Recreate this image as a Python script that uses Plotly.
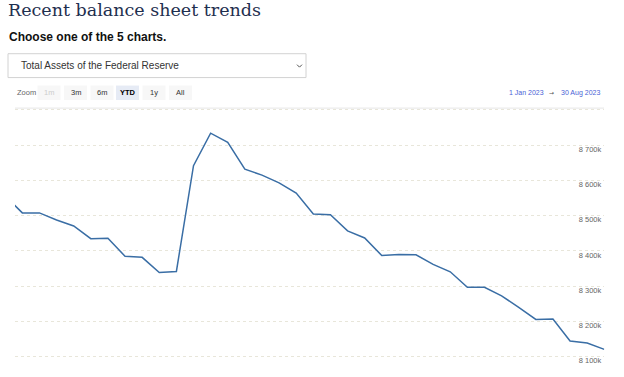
import plotly.graph_objects as go

# ---- data ----
dates = ["2022-12-28", "2023-01-04", "2023-01-11", "2023-01-18", "2023-01-25",
         "2023-02-01", "2023-02-08", "2023-02-15", "2023-02-22",
         "2023-03-01", "2023-03-08", "2023-03-15", "2023-03-22", "2023-03-29",
         "2023-04-05", "2023-04-12", "2023-04-19", "2023-04-26",
         "2023-05-03", "2023-05-10", "2023-05-17", "2023-05-24", "2023-05-31",
         "2023-06-07", "2023-06-14", "2023-06-21", "2023-06-28",
         "2023-07-05", "2023-07-12", "2023-07-19", "2023-07-26",
         "2023-08-02", "2023-08-09", "2023-08-16", "2023-08-23", "2023-08-30"]
total_assets = [8556000, 8508000, 8508000, 8488000, 8471000,
                8435000, 8436000, 8385000, 8382000,
                8339000, 8342000, 8642000, 8734000, 8708000,
                8632000, 8615000, 8593000, 8564000,
                8505000, 8503000, 8457000, 8437000, 8387000,
                8390000, 8389000, 8362000, 8341000,
                8297000, 8297000, 8273000, 8240000,
                8206000, 8207000, 8145000, 8139000, 8121000]
tick_vals = [8100000, 8200000, 8300000, 8400000, 8500000, 8600000, 8700000, 8800000]
tick_text = ["8 100k", "8 200k", "8 300k", "8 400k", "8 500k", "8 600k", "8 700k", ""]
zoom_buttons = ["1m", "3m", "6m", "YTD", "1y", "All"]
range_from = "1 Jan 2023"
range_to = "30 Aug 2023"

W, H = 624, 377

def px(x):
    return x / W

def py(y):
    return 1 - y / H

fig = go.Figure()
fig.add_trace(go.Scatter(
    x=dates, y=total_assets, mode="lines",
    line=dict(color="#3a6ea5", width=1.5),
    hoverinfo="skip", showlegend=False,
))

fig.update_layout(
    width=W, height=H,
    margin=dict(l=0, r=0, t=0, b=0),
    paper_bgcolor="white", plot_bgcolor="white",
    xaxis=dict(
        domain=[px(15), px(604.3)],
        range=["2023-01-01", "2023-08-30"],
        showgrid=False, showticklabels=False, zeroline=False,
        showline=False, ticks="",
    ),
    yaxis=dict(
        domain=[py(365.8), py(108.7)],
        range=[8080000, 8805000],
        side="right",
        tickvals=tick_vals, ticktext=tick_text,
        ticklabelposition="inside",
        ticklabeloverflow="allow",
        ticklabelshift=4,
        tickfont=dict(family="Liberation Sans, Arial", size=7.5, color="#666666"),
        showgrid=True, gridcolor="#e8e6da", griddash="dot", gridwidth=1,
        zeroline=False, showline=False, ticks="",
    ),
    font=dict(family="Liberation Sans, Arial"),
)

annotations = []
shapes = []

# Title
annotations.append(dict(
    text="Recent balance sheet trends", x=px(6), y=py(10.5), xref="paper", yref="paper",
    xanchor="left", yanchor="middle", showarrow=False,
    font=dict(family="DejaVu Serif", size=17.5, color="#1f2f4f"),
))
# Subtitle
annotations.append(dict(
    text="<b>Choose one of the 5 charts.</b>", x=px(7), y=py(37.5), xref="paper", yref="paper",
    xanchor="left", yanchor="middle", showarrow=False,
    font=dict(family="Liberation Sans, Arial", size=12, color="#111111"),
))

# Dropdown box
shapes.append(dict(type="rect", xref="paper", yref="paper",
                   x0=px(8), x1=px(306), y0=py(78), y1=py(54),
                   line=dict(color="#d2d2d2", width=1), fillcolor="white"))
annotations.append(dict(
    text="Total Assets of the Federal Reserve", x=px(19), y=py(66), xref="paper", yref="paper",
    xanchor="left", yanchor="middle", showarrow=False,
    font=dict(family="Liberation Sans, Arial", size=10, color="#333333"),
))
shapes.append(dict(type="path", xref="paper", yref="paper",
                   path=f"M {px(297)} {py(65)} L {px(299.5)} {py(67.5)} L {px(302)} {py(65)}",
                   line=dict(color="#555555", width=1)))

# Zoom label and buttons
annotations.append(dict(
    text="Zoom", x=px(14.5), y=py(93), xref="paper", yref="paper",
    xanchor="left", yanchor="middle", showarrow=False,
    font=dict(family="Liberation Sans, Arial", size=7.5, color="#666666"),
))
btn_centers = [49, 75.5, 102, 127.5, 154, 180.5]
for lab, cx in zip(zoom_buttons, btn_centers):
    selected = lab == "YTD"
    disabled = lab == "1m"
    shapes.append(dict(type="rect", xref="paper", yref="paper",
                       x0=px(cx - 11.5), x1=px(cx + 11.5), y0=py(100.5), y1=py(86),
                       line=dict(width=0),
                       fillcolor="#e6ebf5" if selected else "#f7f7f7"))
    annotations.append(dict(
        text=f"<b>{lab}</b>" if selected else lab, x=px(cx), y=py(93),
        xref="paper", yref="paper", xanchor="center", yanchor="middle", showarrow=False,
        font=dict(family="Liberation Sans, Arial", size=7.5,
                  color="#000000" if selected else ("#cccccc" if disabled else "#333333")),
    ))

# Date range
annotations.append(dict(
    text=range_from, x=px(506.5), y=py(93), xref="paper", yref="paper",
    xanchor="left", yanchor="middle", showarrow=False,
    font=dict(family="Liberation Sans, Arial", size=7, color="#4a5fd6"),
))
annotations.append(dict(
    text="→", x=px(551), y=py(93), xref="paper", yref="paper",
    xanchor="center", yanchor="middle", showarrow=False,
    font=dict(family="DejaVu Sans", size=6, color="#555555"),
))
annotations.append(dict(
    text=range_to, x=px(601.5), y=py(93), xref="paper", yref="paper",
    xanchor="right", yanchor="middle", showarrow=False,
    font=dict(family="Liberation Sans, Arial", size=7, color="#4a5fd6"),
))

# thin separator line under the range selector row
shapes.append(dict(type="line", xref="paper", yref="paper",
                   x0=px(15), x1=px(604), y0=py(108.7), y1=py(108.7),
                   line=dict(color="#e6e6e6", width=1)))

fig.update_layout(annotations=annotations, shapes=shapes)
fig.write_html("out.html", config={"displayModeBar": False})

# remove the default page margin so the figure sits at the window's top-left corner
with open("out.html", encoding="utf-8") as f:
    html = f.read()
html = html.replace("<head>", "<head><style>html,body{margin:0;padding:0;overflow:hidden;}</style>", 1)
with open("out.html", "w", encoding="utf-8") as f:
    f.write(html)
